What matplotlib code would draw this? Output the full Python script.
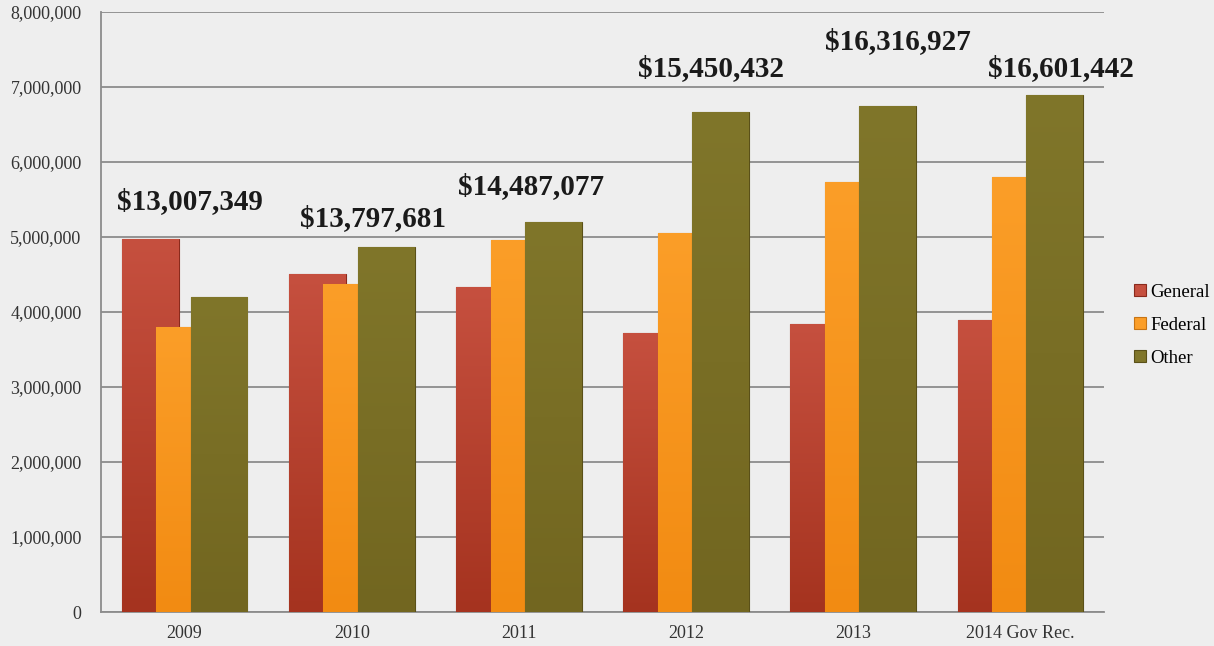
import numpy as np
import matplotlib
matplotlib.use('Agg')
import matplotlib.pyplot as plt
from matplotlib.colors import LinearSegmentedColormap
from matplotlib.ticker import FuncFormatter

years = ['2009', '2010', '2011', '2012', '2013', '2014 Gov Rec.']
general = [4980000, 4510000, 4330000, 3720000, 3840000, 3900000]
federal = [3800000, 4380000, 4960000, 5050000, 5730000, 5800000]
other = [4200000, 4870000, 5200000, 6670000, 6750000, 6900000]
totals = [13007349, 13797681, 14487077, 15450432, 16316927, 16601442]

series = [('General', general), ('Federal', federal), ('Other', other)]
# top colour, bottom colour, edge
colors = {
    'General': ('#c6503f', '#a5331f', '#8a2a1c'),
    'Federal': ('#fb9e28', '#f28b12', '#c77414'),
    'Other': ('#80762a', '#726620', '#5a5018'),
}
# where the total labels sit (x offset from group centre, height)
label_dx = [0.03, 0.13, 0.07, 0.15, 0.27, 0.24]
label_y = [5.47e6, 5.25e6, 5.67e6, 7.25e6, 7.6e6, 7.25e6]

bg = '#eeeeee'
fig = plt.figure(figsize=(12.14, 6.46), dpi=100, facecolor=bg)
ax = fig.add_axes([0.0832, 0.0526, 0.8262, 0.9288])
ax.set_facecolor(bg)

x = np.arange(len(years))
width = 0.34
offsets = [-0.206, 0.0, 0.206]

for k, (name, vals) in enumerate(series):
    top, bottom, edge = colors[name]
    cmap = LinearSegmentedColormap.from_list(name, [bottom, top])
    bars = ax.bar(x + offsets[k], vals, width, color=top, edgecolor=edge,
                  linewidth=0.8, zorder=3 + k, label=name)
    grad = np.linspace(0, 1, 256).reshape(-1, 1)
    for b in bars:
        x0, y0 = b.get_x(), b.get_y()
        im = ax.imshow(grad, cmap=cmap, origin='lower', aspect='auto',
                       extent=[x0, x0 + b.get_width(), y0, y0 + b.get_height()],
                       zorder=3 + k, interpolation='bicubic')
        im.set_clip_path(b)

for i, t in enumerate(totals):
    ax.text(x[i] + label_dx[i], label_y[i], '${:,}'.format(t),
            ha='center', va='center', fontsize=21, fontweight='bold',
            family='Liberation Serif', color='#1a1a1a', zorder=10)

ax.set_xlim(-0.5, len(years) - 0.5)
ax.set_ylim(0, 8000000)
ax.set_yticks(np.arange(0, 8000001, 1000000))
ax.yaxis.set_major_formatter(FuncFormatter(lambda v, p: '{:,.0f}'.format(v)))
ax.set_xticks(x)
ax.set_xticklabels(years)
ax.grid(axis='y', color='#8c8c8c', linewidth=1.3, zorder=1)
ax.set_axisbelow(True)
for s in ['top', 'right']:
    ax.spines[s].set_visible(False)
for s in ['left', 'bottom']:
    ax.spines[s].set_color('#8c8c8c')
    ax.spines[s].set_linewidth(1.3)
ax.tick_params(axis='both', length=0, colors='#333333', labelsize=13)
ax.tick_params(axis='y', pad=14)
ax.tick_params(axis='x', pad=9)
for lab in ax.get_xticklabels() + ax.get_yticklabels():
    lab.set_family('Liberation Serif')

leg = ax.legend(loc='center left', bbox_to_anchor=(1.022, 0.478), frameon=False,
                prop={'family': 'Liberation Serif', 'size': 13.5},
                handlelength=0.65, handleheight=0.65, handletextpad=0.25,
                labelspacing=0.85, borderaxespad=0)

fig.savefig('out.png', dpi=100, facecolor=bg)
